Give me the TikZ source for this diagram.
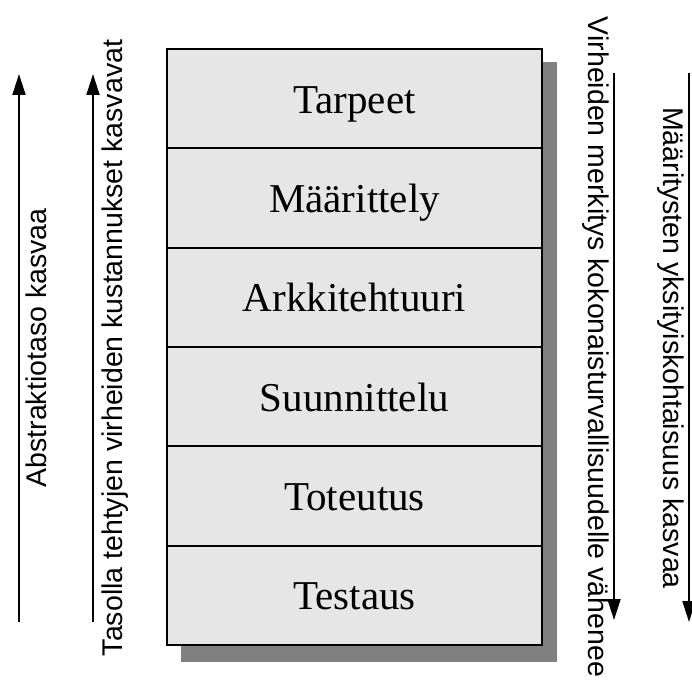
\documentclass[tikz,border=0pt]{standalone}
\usepackage{fontspec}
\setmainfont{Liberation Serif}
\newfontfamily\arialfont{Liberation Sans}
\usetikzlibrary{arrows.meta,backgrounds}

\definecolor{layerfill}{HTML}{E6E6E6}
\definecolor{shadowgray}{HTML}{808080}

\tikzset{
  layer/.style={draw=black, line width=2pt, fill=layerfill,
    minimum width=375pt, minimum height=99.33pt, inner sep=0pt,
    text height=29pt, text depth=0pt,
    font=\fontsize{41}{45}\selectfont},
  sidetext/.style={font=\arialfont\fontsize{28.5}{32}\selectfont,
    inner sep=0pt, anchor=base},
  trend/.style={line width=1.8pt, -{Triangle[length=21pt,width=13pt]}}
}

\begin{document}
\begin{tikzpicture}[x=1pt,y=-1pt]
  \useasboundingbox (0,0) rectangle (692,682);

  % stacked layers of the process
  \node[layer] (r1) at (354.5,98.67)  {Tarpeet};
  \node[layer] (r2) at (354.5,198.0)  {Määrittely};
  \node[layer] (r3) at (354.5,297.33) {Arkkitehtuuri};
  \node[layer] (r4) at (354.5,396.67) {Suunnittelu};
  \node[layer] (r5) at (354.5,496.0)  {Toteutus};
  \node[layer] (r6) at (354.5,595.33) {Testaus};

  % drop shadow behind the stack
  \begin{pgfonlayer}{background}
    \fill[shadowgray] ([shift={(15,14)}]r1.north west) rectangle ([shift={(14,16)}]r6.south east);
  \end{pgfonlayer}

  % trend arrows
  \coordinate (a1s) at (19,622);  \coordinate (a1e) at (19,74);
  \coordinate (a2s) at (93,622);  \coordinate (a2e) at (93,74);
  \coordinate (a3s) at (614,73);  \coordinate (a3e) at (614,620);
  \coordinate (a4s) at (689,73);  \coordinate (a4e) at (689,622);
  \draw[trend] (a1s) -- (a1e);
  \draw[trend] (a2s) -- (a2e);
  \draw[trend] (a3s) -- (a3e);
  \draw[trend] (a4s) -- (a4e);

  % arrow captions
  \node[sidetext, rotate=90] (t1) at (46,348) {Abstraktiotaso kasvaa};
  \node[sidetext, rotate=90] (t2) at (122,348) {Tasolla tehtyjen virheiden kustannukset kasvavat};
  \node[sidetext, rotate=-90] (t3) at (588,347) {Virheiden merkitys kokonaisturvallisuudelle vähenee};
  \node[sidetext, rotate=-90] (t4) at (663,348) {Määritysten yksityiskohtaisuus kasvaa};
\end{tikzpicture}
\end{document}
